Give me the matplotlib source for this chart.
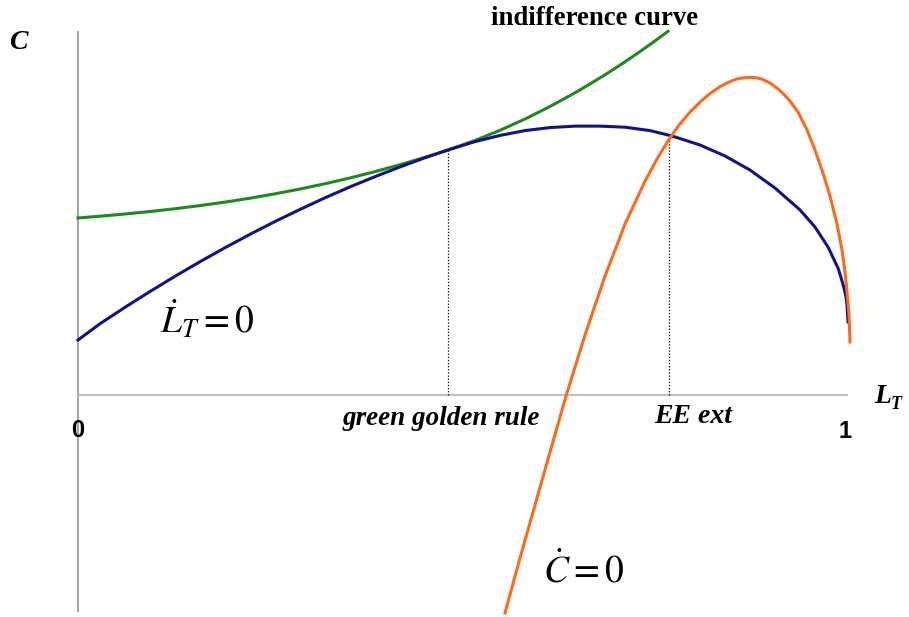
import matplotlib
matplotlib.use("Agg")
import matplotlib.pyplot as plt

plt.rcParams['mathtext.fontset'] = 'stix'

# curva L_T dot = 0 (azul)
lt_x = [0.0, 0.0286, 0.0610, 0.0935, 0.1260, 0.1584, 0.1909, 0.2234, 0.2558, 0.2883,
        0.3208, 0.3532, 0.3857, 0.4182, 0.4506, 0.4805, 0.5156, 0.5481, 0.5805, 0.6130,
        0.6455, 0.6779, 0.7104, 0.7429, 0.7714, 0.8078, 0.8403, 0.8727, 0.9052, 0.9377,
        0.9571, 0.9740, 0.9870, 0.9909, 0.9948, 0.9974, 0.9987, 1.0]
lt_y = [0.0714, 0.0926, 0.1139, 0.1344, 0.1542, 0.1731, 0.1913, 0.2087, 0.2253, 0.2410,
        0.2561, 0.2703, 0.2836, 0.2962, 0.3081, 0.3182, 0.3291, 0.3371, 0.3434, 0.3473,
        0.3492, 0.3492, 0.3478, 0.3434, 0.3364, 0.3247, 0.3104, 0.2922, 0.2688, 0.2403,
        0.2182, 0.1922, 0.1649, 0.1526, 0.1390, 0.1273, 0.1169, 0.0948]

# curva de indiferenca (verde)
ind_x = [0.0, 0.0286, 0.0610, 0.0935, 0.1260, 0.1584, 0.1909, 0.2234, 0.2558, 0.2883,
         0.3208, 0.3532, 0.3857, 0.4182, 0.4506, 0.4805, 0.5156, 0.5481, 0.5805, 0.6130,
         0.6455, 0.6779, 0.7039, 0.7299, 0.7494, 0.7662]
ind_y = [0.2299, 0.2322, 0.2351, 0.2383, 0.2419, 0.2460, 0.2505, 0.2556, 0.2613, 0.2675,
         0.2744, 0.2819, 0.2901, 0.2991, 0.3087, 0.3182, 0.3306, 0.3438, 0.3584, 0.3747,
         0.3925, 0.4118, 0.4284, 0.4460, 0.4599, 0.4723]

# curva C dot = 0 (laranja)
cd_x = [0.5545, 0.5740, 0.5935, 0.6130, 0.6338, 0.6584, 0.6844, 0.7104, 0.7364, 0.7519,
        0.7662, 0.7805, 0.7948, 0.8078, 0.8208, 0.8338, 0.8468, 0.8558, 0.8636, 0.8727,
        0.8818, 0.8896, 0.8987, 0.9078, 0.9156, 0.9247, 0.9351, 0.9468, 0.9571, 0.9675,
        0.9766, 0.9857, 0.9922, 0.9961, 0.9987, 1.0013, 1.0026]
cd_y = [-0.2831, -0.2117, -0.1429, -0.0740, -0.0013, 0.0779, 0.1545, 0.2221, 0.2779,
        0.3065, 0.3299, 0.3506, 0.3675, 0.3805, 0.3916, 0.4006, 0.4071, 0.4104, 0.4119,
        0.4126, 0.4119, 0.4097, 0.4052, 0.3987, 0.3916, 0.3818, 0.3675, 0.3442, 0.3182,
        0.2883, 0.2584, 0.2221, 0.1883, 0.1597, 0.1338, 0.1039, 0.0688]

# pontos marcados no eixo
marcas_x = [0.4805, 0.7675]
marcas_y = [0.3182, 0.3360]
marcas_txt = ["green golden rule", "EE ext"]

fig = plt.figure(figsize=(9.09, 6.17), dpi=100)
ax = fig.add_axes([0, 0, 1, 1])
ax.set_xlim(-0.1013, 1.0792)
ax.set_ylim(-0.2883, 0.513)
ax.axis('off')

# eixos
ax.plot([0, 0], [-0.282, 0.473], color='#8a8a8a', lw=1.1, solid_capstyle='butt')
ax.plot([0, 1.0], [0, 0], color='#c0c0c0', lw=1.6, solid_capstyle='butt')

# linhas pontilhadas
for mx, my in zip(marcas_x, marcas_y):
    ax.plot([mx, mx], [0, my], color='black', lw=0.9, linestyle=(0, (1, 1.5)))

ax.plot(ind_x, ind_y, color='#1e8a1e', lw=2.2)
ax.plot(lt_x, lt_y, color='#12128a', lw=2.2)
ax.plot(cd_x, cd_y, color='#ff6a1a', lw=2.2)

serif = 'Liberation Serif'
ax.text(-0.0779, 0.458, "C", fontfamily=serif, fontweight='bold', fontstyle='italic',
        fontsize=20, ha='center', va='center')
ax.text(0.671, 0.481, "indifference curve", fontfamily=serif, fontweight='bold',
        fontsize=19.3, ha='center', va='baseline')
ax.text(0.472, -0.039, marcas_txt[0], fontfamily=serif, fontweight='bold',
        fontstyle='italic', fontsize=19.5, ha='center', va='baseline')
ax.text(0.799, -0.036, marcas_txt[1], fontfamily=serif, fontweight='bold',
        fontstyle='italic', fontsize=20, ha='center', va='baseline')
ax.text(1.034, -0.010, "L", fontfamily=serif, fontweight='bold', fontstyle='italic',
        fontsize=20, ha='left', va='baseline')
ax.text(1.055, -0.018, "T", fontfamily=serif, fontweight='bold', fontstyle='italic',
        fontsize=13, ha='left', va='baseline')

ax.text(0.0, -0.046, "0", fontfamily='Liberation Sans', fontweight='bold',
        fontsize=17, ha='center', va='center')
ax.text(0.996, -0.048, "1", fontfamily='Liberation Sans', fontweight='bold',
        fontsize=17, ha='center', va='center')

ax.text(0.1065, 0.0805, r"$\dot{L}_T = 0$", fontsize=27, ha='left', va='baseline')
ax.text(0.604, -0.244, r"$\dot{C} = 0$", fontsize=27, ha='left', va='baseline')

fig.savefig("out.png", dpi=100)
